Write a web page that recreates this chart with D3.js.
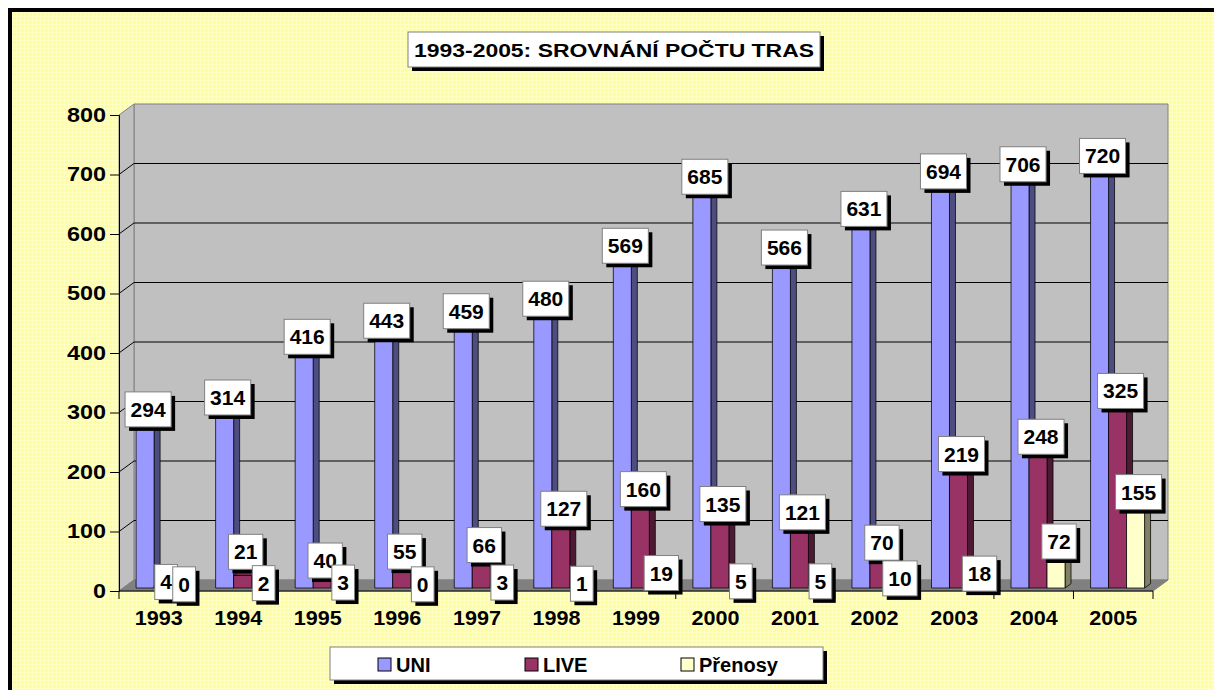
<!DOCTYPE html>
<html>
<head>
<meta charset="utf-8">
<script src="https://cdn.jsdelivr.net/npm/d3@7"></script>
<style>
  body { margin: 0; background: #fff; }
  svg text { font-family: Arial, "Liberation Sans", sans-serif; font-weight: bold; fill: #000; }
</style>
</head>
<body>
<div id="chart"></div>
<script>
// data
var years   = ["1993","1994","1995","1996","1997","1998","1999","2000","2001","2002","2003","2004","2005"];
var uni     = [294, 314, 416, 443, 459, 480, 569, 685, 566, 631, 694, 706, 720];
var live    = [4, 21, 40, 55, 66, 127, 160, 135, 121, 70, 219, 248, 325];
var prenosy = [0, 2, 3, 0, 3, 1, 19, 5, 5, 10, 18, 72, 155];
var seriesNames = ["UNI", "LIVE", "Přenosy"];
var yTicks = [0, 100, 200, 300, 400, 500, 600, 700, 800];
var title = "1993-2005: SROVNÁNÍ POČTU TRAS";

var colors = [
    {front: "#9999FF", side: "#4D4D80", top: "#7373BF"},
    {front: "#993366", side: "#4D1A33", top: "#73264D"},
    {front: "#FFFFCC", side: "#808066", top: "#BFBF99"}
];

var width = 1214, height = 690;

// 3d depth of the plot box
var dx = 15, dy = 11;
var zf = 0.27, zb = 0.67;   // front / back of the columns, as part of depth

var svg = d3.select("#chart").append("svg")
    .attr("width", width)
    .attr("height", height);

// yellow dithered background
var defs = svg.append("defs");
var pat = defs.append("pattern")
    .attr("id", "dither")
    .attr("width", 4).attr("height", 4)
    .attr("patternUnits", "userSpaceOnUse");
pat.append("rect").attr("width", 4).attr("height", 4).attr("fill", "#FFFF99");
pat.append("rect").attr("width", 4).attr("height", 1).attr("fill", "#FFFFC4");
pat.append("rect").attr("width", 1).attr("height", 4).attr("fill", "#FFFFC4");

svg.append("rect")
    .attr("x", 10).attr("y", 10)
    .attr("width", width + 20).attr("height", height + 20)
    .attr("fill", "url(#dither)")
    .attr("stroke", "#000")
    .attr("stroke-width", 4);

var y = d3.scaleLinear().domain([0, 800]).range([591, 115]);
var x0 = d3.scaleBand().domain(years).range([119, 1153]);
var bw = x0.bandwidth();
var x1 = d3.scaleBand().domain(seriesNames).range([bw * 0.164, bw * 0.843]);

function P(x, v, z) {
    return [x + z * dx, y(v) - z * dy];
}
function poly(pts) {
    return pts.map(p => p.join(",")).join(" ");
}

var xL = x0.range()[0], xR = x0.range()[1];

// back wall
svg.append("polygon")
    .attr("points", poly([P(xL, 0, 1), P(xL, 800, 1), P(xR, 800, 1), P(xR, 0, 1)]))
    .attr("fill", "#C0C0C0")
    .attr("stroke", "#808080");

// side wall
svg.append("polygon")
    .attr("points", poly([P(xL, 0, 0), P(xL, 800, 0), P(xL, 800, 1), P(xL, 0, 1)]))
    .attr("fill", "#C0C0C0")
    .attr("stroke", "#808080");

// floor
svg.append("polygon")
    .attr("points", poly([P(xL, 0, 0), P(xR, 0, 0), P(xR, 0, 1), P(xL, 0, 1)]))
    .attr("fill", "#808080")
    .attr("stroke", "#808080");

// gridlines on the walls
var grid = yTicks.filter(t => t > 0 && t < 800);
svg.selectAll(".grid")
    .data(grid)
    .enter()
    .append("polyline")
        .attr("points", t => poly([P(xL, t, 0), P(xL, t, 1), P(xR, t, 1)]))
        .attr("fill", "none")
        .attr("stroke", "#000")
        .attr("stroke-width", 1);

// y axis
var yAxis = svg.append("g")
    .attr("transform", `translate(${xL},0)`)
    .call(d3.axisLeft(y).tickValues(yTicks).tickSize(9).tickPadding(4));
yAxis.select(".domain").attr("stroke", "#000");
yAxis.selectAll(".tick line").attr("stroke", "#000");
yAxis.selectAll("text")
    .attr("font-size", 20)
    .attr("font-family", null)
    .attr("fill", "#000")
    .attr("textLength", d => String(d).length * 13)
    .attr("lengthAdjust", "spacingAndGlyphs");

// x axis: line, boundary ticks, labels in the middle of each band
svg.append("line")
    .attr("x1", xL).attr("x2", xR)
    .attr("y1", y(0)).attr("y2", y(0))
    .attr("stroke", "#000");
svg.selectAll(".xtick")
    .data(years.concat(["end"]))
    .enter()
    .append("line")
        .attr("x1", (d, i) => xL + i * bw)
        .attr("x2", (d, i) => xL + i * bw)
        .attr("y1", y(0))
        .attr("y2", y(0) + 8)
        .attr("stroke", "#000");
svg.selectAll(".xlab")
    .data(years)
    .enter()
    .append("text")
        .attr("x", d => x0(d) + bw / 2)
        .attr("y", y(0) + 34)
        .attr("text-anchor", "middle")
        .attr("font-size", 20)
        .attr("textLength", 48)
        .attr("lengthAdjust", "spacingAndGlyphs")
        .text(d => d);

// columns
var values = [uni, live, prenosy];
var bars = [];
years.forEach(function(yr, i) {
    seriesNames.forEach(function(s, j) {
        bars.push({year: yr, s: j, v: values[j][i], l: x0(yr) + x1(s), r: x0(yr) + x1(s) + x1.bandwidth()});
    });
});

var gBars = svg.append("g");
bars.forEach(function(b) {
    var c = colors[b.s];
    gBars.append("polygon")
        .attr("points", poly([P(b.r, 0, zf), P(b.r, b.v, zf), P(b.r, b.v, zb), P(b.r, 0, zb)]))
        .attr("fill", c.side)
        .attr("stroke", "#000").attr("stroke-width", 0.75);
    gBars.append("polygon")
        .attr("points", poly([P(b.l, b.v, zf), P(b.r, b.v, zf), P(b.r, b.v, zb), P(b.l, b.v, zb)]))
        .attr("fill", c.top)
        .attr("stroke", "#000").attr("stroke-width", 0.75);
    gBars.append("polygon")
        .attr("points", poly([P(b.l, 0, zf), P(b.l, b.v, zf), P(b.r, b.v, zf), P(b.r, 0, zf)]))
        .attr("fill", c.front)
        .attr("stroke", "#000").attr("stroke-width", 0.75);
});

// data labels, series by series
// the 1994 LIVE label was moved up in the original to clear the one below it
function nudge(b) {
    return (b.year === "1994" && b.s === 1) ? -20 : 0;
}
var gLab = svg.append("g");
seriesNames.forEach(function(s, j) {
    bars.filter(b => b.s === j).forEach(function(b) {
        var zm = (zf + zb) / 2;
        var cx = (b.l + b.r) / 2 + zm * dx;
        var cy = y(b.v) - zm * dy - 1.5 + nudge(b);
        var g = gLab.append("g");
        var t = g.append("text")
            .attr("x", cx)
            .attr("y", cy + 7.5)
            .attr("text-anchor", "middle")
            .attr("font-size", 21)
            .text(b.v);
        var w = t.node().getComputedTextLength() + 11;
        var h = 35;
        g.insert("rect", "text")
            .attr("x", cx - w / 2 + 4).attr("y", cy - h / 2 + 4)
            .attr("width", w).attr("height", h)
            .attr("fill", "#000");
        g.insert("rect", "text")
            .attr("x", cx - w / 2).attr("y", cy - h / 2)
            .attr("width", w).attr("height", h)
            .attr("fill", "#fff")
            .attr("stroke", "#808080");
    });
});

// title box
var tg = svg.append("g");
tg.append("rect").attr("x", 412).attr("y", 36).attr("width", 412).attr("height", 35).attr("fill", "#000");
tg.append("rect").attr("x", 408).attr("y", 32).attr("width", 412).attr("height", 35)
    .attr("fill", "#fff").attr("stroke", "#808080");
tg.append("text")
    .attr("x", 614).attr("y", 57)
    .attr("text-anchor", "middle")
    .attr("font-size", 18)
    .attr("textLength", 400)
    .attr("lengthAdjust", "spacingAndGlyphs")
    .text(title);

// legend
var lg = svg.append("g");
lg.append("rect").attr("x", 334).attr("y", 651).attr("width", 493).attr("height", 33).attr("fill", "#000");
lg.append("rect").attr("x", 330).attr("y", 647).attr("width", 493).attr("height", 33)
    .attr("fill", "#fff").attr("stroke", "#808080");
var legX = [378, 525, 681];
seriesNames.forEach(function(s, j) {
    lg.append("rect")
        .attr("x", legX[j]).attr("y", 658)
        .attr("width", 13).attr("height", 13)
        .attr("fill", colors[j].front)
        .attr("stroke", "#000");
    lg.append("text")
        .attr("x", legX[j] + 18).attr("y", 672)
        .attr("font-size", 20)
        .text(s);
});
</script>
</body>
</html>
